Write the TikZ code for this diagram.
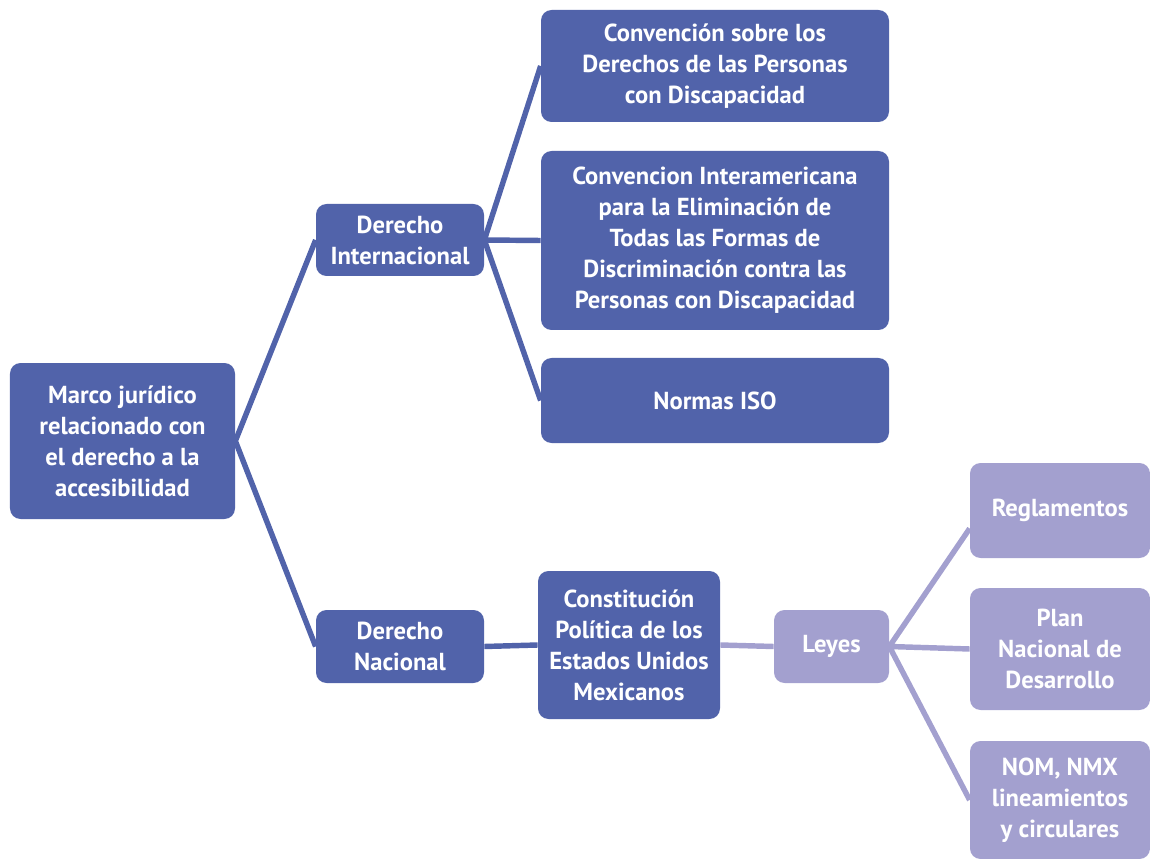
\documentclass[tikz,border=0pt]{standalone}
\usepackage{fontspec}
\setmainfont{PT Sans}
\usepackage{xcolor}
\usepackage{tikz}
\usetikzlibrary{positioning}
\definecolor{darkblue}{HTML}{5163AA}
\definecolor{lilac}{HTML}{A3A0CF}
\tikzset{
  mainbox/.style={rectangle, rounded corners=6pt, fill=darkblue, text=white, align=center, inner sep=0pt, font=\fontsize{14}{17.6}\selectfont\bfseries},
  subbox/.style={rectangle, rounded corners=6pt, fill=lilac, text=white, align=center, inner sep=0pt, font=\fontsize{14}{17.6}\selectfont\bfseries},
  link/.style={draw=darkblue, line width=3.1pt},
  sublink/.style={draw=lilac, line width=3.1pt},
}

\begin{document}
\begin{tikzpicture}

  \useasboundingbox (0,0) rectangle (23,-17.18);

  \node (root) [mainbox, minimum width=4.5cm, minimum height=3.12cm] at (2.45,-8.82) {Marco jurídico\\relacionado con\\el derecho a la\\accesibilidad};
  \node (dint) [mainbox, minimum width=3.36cm, minimum height=1.44cm] at (8.0,-4.8) {Derecho\\Internacional};
  \node (dnac) [mainbox, minimum width=3.36cm, minimum height=1.46cm] at (8.0,-12.93) {Derecho\\Nacional};
  \node (conv) [mainbox, minimum width=6.96cm, minimum height=2.24cm] at (14.3,-1.32) {Convención sobre los\\Derechos de las Personas\\con Discapacidad};
  \node (inter) [mainbox, minimum width=6.96cm, minimum height=3.58cm] at (14.3,-4.81) {Convencion Interamericana\\para la Eliminación de\\Todas las Formas de\\Discriminación contra las\\Personas con Discapacidad};
  \node (iso) [mainbox, minimum width=6.96cm, minimum height=1.7cm] at (14.3,-8.01) {Normas ISO};
  \node (cpeum) [mainbox, minimum width=3.64cm, minimum height=2.96cm] at (12.58,-12.9) {Constitución\\Política de los\\Estados Unidos\\Mexicanos};
  \node (leyes) [subbox, minimum width=2.3cm, minimum height=1.46cm] at (16.63,-12.93) {Leyes};
  \node (regl) [subbox, minimum width=3.6cm, minimum height=1.9cm] at (21.2,-10.21) {Reglamentos};
  \node (plan) [subbox, minimum width=3.6cm, minimum height=2.44cm] at (21.2,-12.98) {Plan\\Nacional de\\Desarrollo};
  \node (nom) [subbox, minimum width=3.6cm, minimum height=2.36cm] at (21.2,-16.0) {NOM, NMX\\lineamientos\\y circulares};

  \draw [link] (root.east) -- (dint.west) (root.east) -- (dnac.west);
  \draw [link] (dint.east) -- (conv.west) (dint.east) -- (inter.west) (dint.east) -- (iso.west);
  \draw [link] (dnac.east) -- (cpeum.west);
  \draw [sublink] (cpeum.east) -- (leyes.west);
  \draw [sublink] (leyes.east) -- ([yshift=-0.36cm]regl.west) (leyes.east) -- (plan.west) (leyes.east) -- (nom.west);

\end{tikzpicture}
\end{document}
